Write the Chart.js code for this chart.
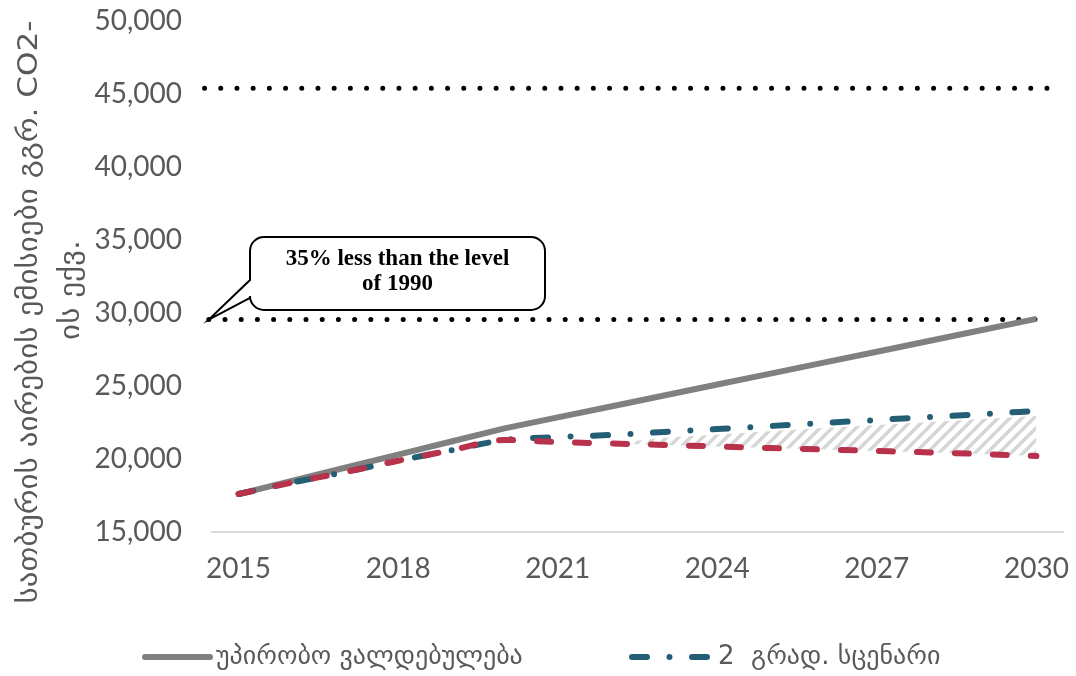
<!DOCTYPE html>
<html>
<head>
<meta charset="utf-8">
<script src="https://cdn.jsdelivr.net/npm/chart.js@4.4.1/dist/chart.umd.min.js"></script>
<style>
  html, body { margin: 0; padding: 0; background: #fff; }
  #wrap { width: 1076px; height: 676px; }
</style>
</head>
<body>
<div id="wrap"><canvas id="emissionsChart"></canvas></div>
<script>
const years = [2015, 2016, 2017, 2018, 2019, 2020, 2021, 2022, 2023, 2024, 2025, 2026, 2027, 2028, 2029, 2030];
const unconditional = [17600, 18500, 19400, 20300, 21200, 22100, 22850, 23600, 24350, 25100, 25850, 26600, 27350, 28100, 28850, 29600];
const scenario2deg = [17600, 18380, 19100, 19880, 20600, 21300, 21500, 21650, 21850, 22050, 22260, 22470, 22670, 22880, 23080, 23290];
const scenarioLow = [17600, 18380, 19100, 19880, 20600, 21300, 21160, 21060, 20960, 20860, 20750, 20650, 20550, 20450, 20340, 20200];
const bandYears = [2022, 2023, 2024, 2025, 2026, 2027, 2028, 2029, 2030];
const bandTop = [21060, 21450, 21680, 21900, 22120, 22330, 22530, 22740, 22950];
const level1990 = 45400;
const level2030 = 29550;
const level1990Span = [2014.36, 2030.26];
const level2030Span = [2014.44, 2030];
const tickYears = [2015, 2018, 2021, 2024, 2027, 2030];
const legendNames = ["უპირობო ვალდებულება", "2  გრად. სცენარი"];
const yTitle = ["სათბურის აირების ემისიები გგრ. CO2-", "ის ექვ."];
const calloutText = ["35% less than the level", "of 1990"];

const textGray = "#595959";
const fontFamily = "Lato, 'DejaVu Sans', sans-serif";

function toPoints(xs, ys) {
  return xs.map((x, i) => ({ x: x, y: ys[i] }));
}

function makeHatch() {
  const c = document.createElement("canvas");
  c.width = 12;
  c.height = 12;
  const g = c.getContext("2d");
  g.strokeStyle = "#d6d6d6";
  g.lineWidth = 3.5;
  g.beginPath();
  g.moveTo(0, 12); g.lineTo(12, 0);
  g.moveTo(-6, 6); g.lineTo(6, -6);
  g.moveTo(6, 18); g.lineTo(18, 6);
  g.stroke();
  return g.createPattern(c, "repeat");
}

// legend entries: dataset index, where the sample line starts and how long it is
const legendSlots = [
  { ds: 0, x: 145, w: 65 },
  { ds: 1, x: 632, w: 80 }
];

const extras = {
  id: "extras",
  afterDraw(chart) {
    const ctx = chart.ctx;
    const xs = chart.scales.x;
    const ys = chart.scales.y;

    // axis title, two rotated lines stretched to the reference length
    ctx.save();
    ctx.fillStyle = textGray;
    ctx.font = "27px 'DejaVu Sans', sans-serif";
    ctx.textAlign = "center";
    ctx.textBaseline = "middle";
    const stretch = 583 / ctx.measureText(yTitle[0]).width;
    ctx.save();
    ctx.translate(30, 312);
    ctx.rotate(-Math.PI / 2);
    ctx.scale(stretch, 1);
    ctx.fillText(yTitle[0], 0, 0);
    ctx.restore();
    ctx.translate(72, 290);
    ctx.rotate(-Math.PI / 2);
    ctx.scale(stretch, 1);
    ctx.fillText(yTitle[1], 0, 0);
    ctx.restore();

    // callout pointing at the 2030 target line
    const tipX = xs.getPixelForValue(level2030Span[0]);
    const tipY = ys.getPixelForValue(level2030);
    const l = 250, t = 237, r = 545, b = 310, rad = 14;
    ctx.save();
    ctx.beginPath();
    ctx.moveTo(l + rad, t);
    ctx.lineTo(r - rad, t);
    ctx.arcTo(r, t, r, t + rad, rad);
    ctx.lineTo(r, b - rad);
    ctx.arcTo(r, b, r - rad, b, rad);
    ctx.lineTo(l + rad, b);
    ctx.arcTo(l, b, l, b - rad, rad);
    ctx.lineTo(l, 298);
    ctx.lineTo(tipX, tipY);
    ctx.lineTo(l, 280);
    ctx.lineTo(l, t + rad);
    ctx.arcTo(l, t, l + rad, t, rad);
    ctx.closePath();
    ctx.fillStyle = "#fff";
    ctx.fill();
    ctx.lineWidth = 2;
    ctx.strokeStyle = "#000";
    ctx.stroke();
    ctx.fillStyle = "#000";
    ctx.font = "bold 23px 'Liberation Serif', serif";
    ctx.textAlign = "center";
    ctx.textBaseline = "alphabetic";
    ctx.fillText(calloutText[0], (l + r) / 2, 265);
    ctx.fillText(calloutText[1], (l + r) / 2, 290);
    ctx.restore();

    // legend, styled from the datasets
    const ly = 657;
    legendSlots.forEach((slot) => {
      const ds = chart.data.datasets[slot.ds];
      ctx.save();
      ctx.strokeStyle = ds.borderColor;
      ctx.lineWidth = ds.borderWidth;
      ctx.lineCap = "round";
      ctx.setLineDash(ds.borderDash || []);
      ctx.beginPath();
      ctx.moveTo(slot.x, ly);
      ctx.lineTo(slot.x + slot.w, ly);
      ctx.stroke();
      ctx.setLineDash([]);
      ctx.fillStyle = textGray;
      ctx.font = "26px 'DejaVu Sans', sans-serif";
      ctx.textAlign = "left";
      ctx.textBaseline = "middle";
      ctx.fillText(ds.label, slot.x + slot.w + 6, ly);
      ctx.restore();
    });
  }
};

const dotted = {
  borderColor: "#000",
  borderWidth: 5,
  borderDash: [0, 16.2],
  borderCapStyle: "round",
  pointRadius: 0,
  fill: false,
  clip: false,
  order: 3
};

new Chart(document.getElementById("emissionsChart"), {
  type: "line",
  data: {
    datasets: [
      {
        label: legendNames[0],
        data: toPoints(years, unconditional),
        borderColor: "#808080",
        borderWidth: 6,
        pointRadius: 0,
        tension: 0,
        fill: false,
        order: 2
      },
      {
        label: legendNames[1],
        data: toPoints(years, scenario2deg),
        borderColor: "#245e74",
        borderWidth: 6,
        borderDash: [15, 22.5, 0, 22.5],
        borderCapStyle: "round",
        pointRadius: 0,
        cubicInterpolationMode: "monotone",
        fill: false,
        order: 1
      },
      {
        label: "",
        data: toPoints(years, scenarioLow),
        borderColor: "#b8324b",
        borderWidth: 6,
        borderDash: [14, 24],
        borderCapStyle: "round",
        pointRadius: 0,
        cubicInterpolationMode: "monotone",
        fill: false,
        order: 0
      },
      {
        label: "",
        data: toPoints(bandYears, bandTop),
        borderWidth: 0,
        borderColor: "rgba(0,0,0,0)",
        backgroundColor: makeHatch(),
        pointRadius: 0,
        fill: "-1",
        order: 5
      },
      Object.assign({ label: "", data: [{ x: level1990Span[0], y: level1990 }, { x: level1990Span[1], y: level1990 }] }, dotted),
      Object.assign({ label: "", data: [{ x: level2030Span[0], y: level2030 }, { x: level2030Span[1], y: level2030 }] }, dotted)
    ]
  },
  options: {
    responsive: true,
    maintainAspectRatio: false,
    animation: false,
    layout: { padding: { left: 95, right: 13, top: 21, bottom: 92 } },
    plugins: {
      tooltip: { enabled: false },
      legend: { display: false }
    },
    scales: {
      x: {
        type: "linear",
        min: 2014.5,
        max: 2030.5,
        afterBuildTicks: (s) => { s.ticks = tickYears.map((v) => ({ value: v })); },
        afterFit: (s) => { s.height = 52; },
        grid: { display: false, drawTicks: true, tickLength: 20 },
        border: { display: true, color: "#d9d9d9", width: 2 },
        ticks: {
          callback: (v) => String(v),
          color: textGray,
          padding: 0,
          maxRotation: 0,
          font: { size: 28, family: fontFamily }
        }
      },
      y: {
        min: 15000,
        max: 50000,
        afterFit: (s) => { s.width = 117; },
        grid: { display: false, drawTicks: true, tickLength: 30 },
        border: { display: false },
        ticks: {
          stepSize: 5000,
          color: textGray,
          padding: 0,
          callback: (v) => v.toLocaleString("en-US"),
          font: { size: 28, family: fontFamily }
        }
      }
    }
  },
  plugins: [extras]
});
</script>
</body>
</html>
